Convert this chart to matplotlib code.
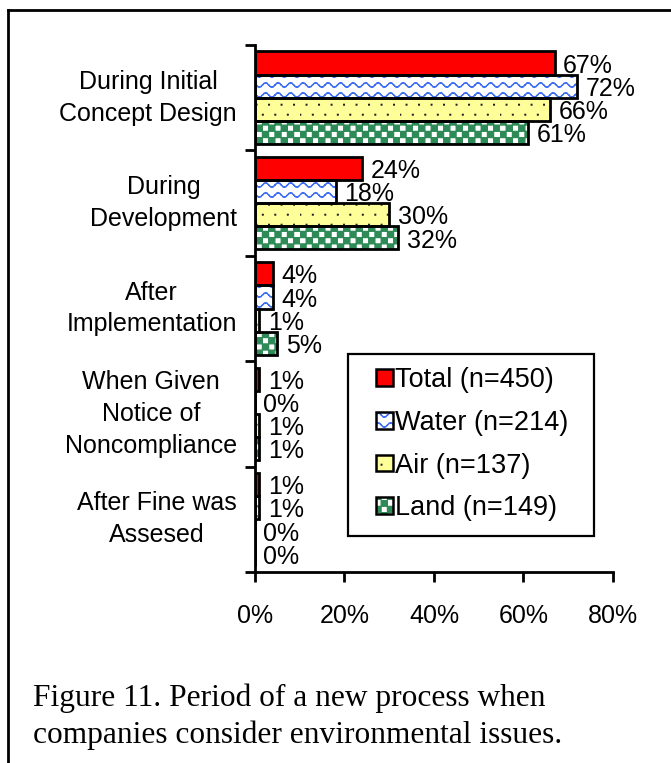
import numpy as np
import matplotlib
matplotlib.use('Agg')
import matplotlib.pyplot as plt
import matplotlib.hatch as mhatch
from matplotlib.path import Path
from matplotlib.patches import Rectangle
from matplotlib.lines import Line2D
from matplotlib.legend_handler import HandlerBase
import warnings

warnings.filterwarnings('ignore')
plt.rcParams['font.family'] = ['Liberation Sans', 'DejaVu Sans']

# data
categories = ['During Initial\nConcept Design', 'During\nDevelopment', 'After\nImplementation',
              'When Given\nNotice of\nNoncompliance', 'After Fine was\nAssesed']
series = ['Total (n=450)', 'Water (n=214)', 'Air (n=137)', 'Land (n=149)']
total = [0.67, 0.24, 0.04, 0.01, 0.01]
water = [0.72, 0.18, 0.04, 0.00, 0.01]
air = [0.66, 0.30, 0.01, 0.01, 0.00]
land = [0.61, 0.32, 0.05, 0.01, 0.00]
xticks = [0, 0.2, 0.4, 0.6, 0.8]


# extra hatch patterns: '~' wavy lines, '#' checkerboard, ',' sparse dots
class WaveHatch(mhatch.HatchPatternBase):
    def __init__(self, hatch, density):
        self.rows = hatch.count('~') * 10
        self.waves = 8
        self.steps = 64
        self.num_vertices = self.rows * self.steps * 2

    def set_vertices_and_codes(self, vertices, codes):
        t = np.linspace(0, 1, self.steps + 1)
        amp = 0.22 / self.rows
        k = 0
        for r in range(self.rows):
            y = (r + 0.5) / self.rows + amp * np.sin(2 * np.pi * self.waves * t)
            for i in range(self.steps):
                vertices[k] = (t[i], y[i])
                vertices[k + 1] = (t[i + 1], y[i + 1])
                codes[k] = Path.MOVETO
                codes[k + 1] = Path.LINETO
                k += 2


def _squares(vertices, codes, pts, size):
    k = 0
    for x0, y0 in pts:
        x1, y1 = x0 + size, y0 + size
        vertices[k:k + 5] = [[x0, y0], [x1, y0], [x1, y1], [x0, y1], [x0, y0]]
        codes[k] = Path.MOVETO
        codes[k + 1:k + 4] = Path.LINETO
        codes[k + 4] = Path.CLOSEPOLY
        k += 5


class CheckerHatch(mhatch.HatchPatternBase):
    def __init__(self, hatch, density):
        self.n = hatch.count('#') * 16
        self.num_vertices = (self.n * self.n // 2) * 5

    def set_vertices_and_codes(self, vertices, codes):
        s = 1.0 / self.n
        pts = [(j * s, i * s) for i in range(self.n) for j in range(self.n) if (i + j) % 2 == 0]
        _squares(vertices, codes, pts, s - 0.002)


class DotHatch(mhatch.HatchPatternBase):
    def __init__(self, hatch, density):
        self.rows = hatch.count(',') * 10
        self.cols = hatch.count(',') * 8
        self.num_vertices = self.rows * self.cols * 5

    def set_vertices_and_codes(self, vertices, codes):
        pts = []
        for i in range(self.rows):
            shift = 0.5 if i % 2 else 0.0
            for j in range(self.cols):
                pts.append(((j + shift) / self.cols, (i + 0.5) / self.rows))
        _squares(vertices, codes, pts, 0.006)


mhatch._hatch_types.extend([WaveHatch, CheckerHatch, DotHatch])

styles = [
    dict(fc='#ff0000', hatch=None, hc='#ff0000'),
    dict(fc='white', hatch='~', hc='#3f6ff2'),
    dict(fc='#ffff99', hatch=',', hc='#222222'),
    dict(fc='white', hatch='#', hc='#2e8b57'),
]


class SquareHandler(HandlerBase):
    # small outlined square sitting at the right end of the handle box
    def create_artists(self, legend, orig_handle, xdescent, ydescent, width, height,
                       fontsize, trans):
        side = 0.62 * fontsize
        x0 = -xdescent + width - side
        y0 = -ydescent + (height - side) / 2
        st = orig_handle
        inner = Rectangle((x0, y0), side, side, facecolor=st['fc'], hatch=st['hatch'],
                          edgecolor=st['hc'], linewidth=0, transform=trans)
        outer = Rectangle((x0, y0), side, side, facecolor='none', edgecolor='black',
                          linewidth=1.8, transform=trans)
        return [inner, outer]


fig = plt.figure(figsize=(6.71, 7.63), dpi=100)
ax = fig.add_axes([255 / 671, 1 - 572 / 763, 358 / 671, 527 / 763])

y = np.arange(len(categories))
h = 0.22
values = [total, water, air, land]
for k, (vals, st) in enumerate(zip(values, styles)):
    pos = y + (k - 1.5) * h
    ax.barh(pos, vals, height=h, color=st['fc'], hatch=st['hatch'],
            edgecolor=st['hc'], linewidth=0, zorder=2)
    ax.barh(pos, vals, height=h, facecolor='none', edgecolor='black',
            linewidth=2, zorder=3)
    for p, v in zip(pos, vals):
        ax.annotate(f'{v:.0%}', (v, p), xytext=(6, -2), textcoords='offset points',
                    ha='left', va='center', fontsize=18)

ax.set_ylim(len(categories) - 0.5, -0.5)
ax.set_xlim(0, 0.8)
ax.set_yticks(np.arange(len(categories) + 1) - 0.5)
ax.set_yticklabels([])
ax.set_yticks(y, minor=True)
ax.set_yticklabels(categories, minor=True, fontsize=18, multialignment='center',
                   linespacing=1.42, va='center')
ax.tick_params(axis='y', which='minor', length=0, pad=13)
ax.tick_params(axis='y', which='major', length=7, width=2, direction='out')
ax.set_xticks(xticks)
ax.set_xticklabels([f'{t:.0%}' for t in xticks], fontsize=18)
ax.tick_params(axis='x', length=7, width=2, direction='out', pad=16)
for s in ['top', 'right']:
    ax.spines[s].set_visible(False)
for s in ['left', 'bottom']:
    ax.spines[s].set_linewidth(2)

leg = ax.legend(styles, series, handler_map={dict: SquareHandler()},
                loc='upper left', bbox_to_anchor=(0.26, 0.389), fontsize=19.5,
                frameon=False, handlelength=1.65, handleheight=0.7,
                handletextpad=0.1, labelspacing=0.62, borderpad=0, borderaxespad=0)

# legend frame with wider side padding than top/bottom
fig.canvas.draw()
bb = leg.get_window_extent(fig.canvas.get_renderer()).transformed(fig.transFigure.inverted())
px, py = 1 / 671, 1 / 763
fig.add_artist(Rectangle((bb.x0, bb.y0 - 15 * py), bb.width + 25 * px, bb.height + 28 * py,
                         facecolor='none', edgecolor='black', linewidth=1.6,
                         transform=fig.transFigure, zorder=5))

# outer frame and caption
fig.add_artist(Line2D([8 / 671, 8 / 671], [0, 1 - 10 / 763], color='black', lw=2))
fig.add_artist(Line2D([8 / 671, 1], [1 - 10 / 763, 1 - 10 / 763], color='black', lw=2))
fig.text(33 / 671, 1 - 743 / 763,
         'Figure 11. Period of a new process when\ncompanies consider environmental issues.',
         family='Liberation Serif', fontsize=22.6, va='baseline', ha='left', linespacing=1.34)

fig.savefig('out.png', dpi=100)
